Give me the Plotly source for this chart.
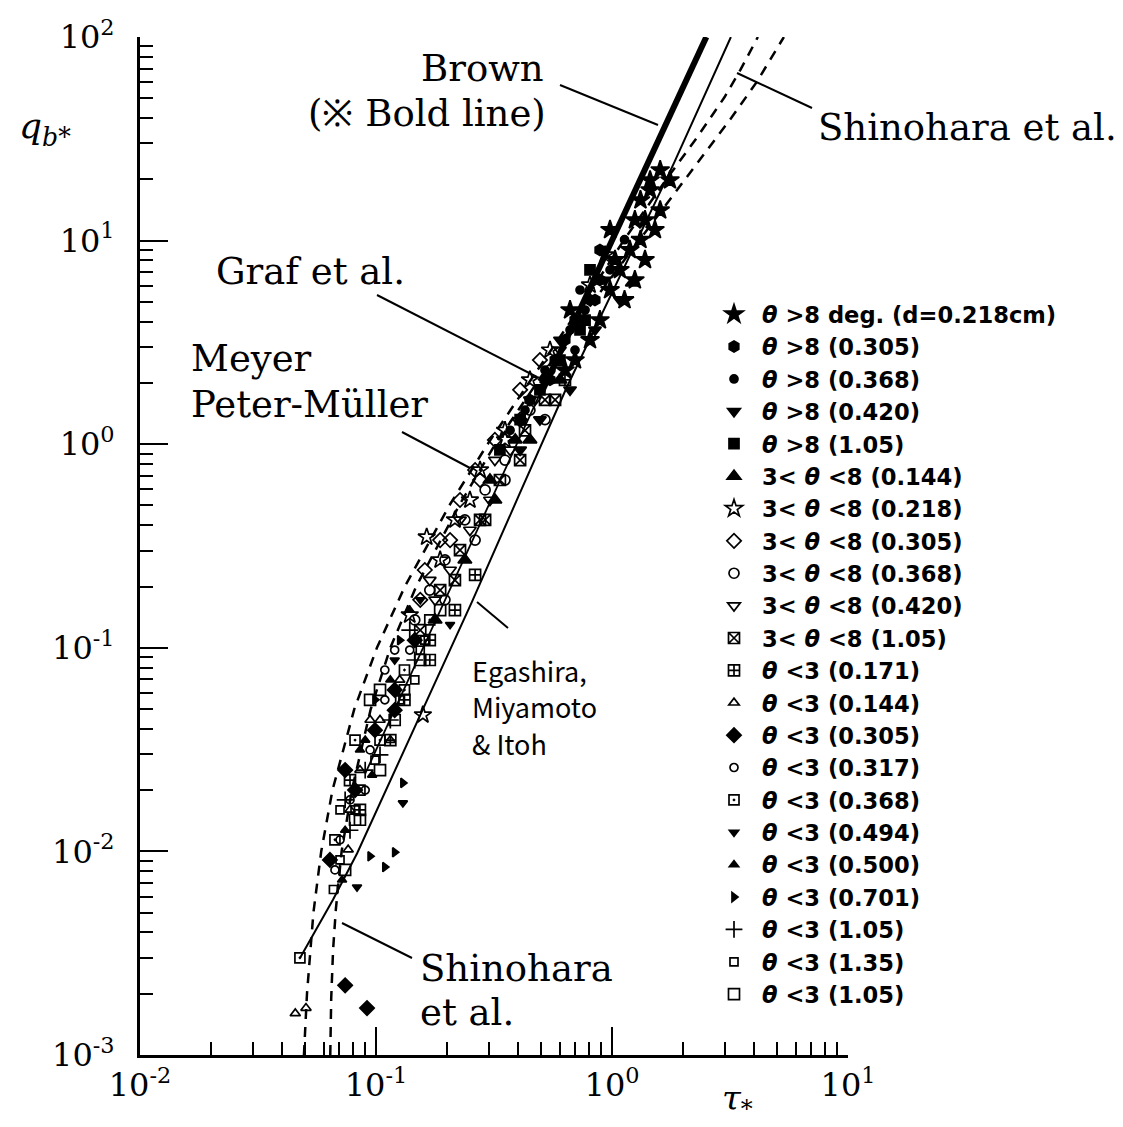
import plotly.graph_objects as go

# ---------------- reference curves ----------------
brown_tau = [0.50, 0.84, 1.00, 1.60, 2.51]
brown_q = [1.77, 6.5, 10.0, 32.0, 100.0]

graf_tau = [0.090, 0.12, 0.18, 0.26, 0.38, 0.53]
graf_q = [0.0241, 0.0496, 0.138, 0.349, 0.907, 2.10]

egashira_tau = [0.0477, 0.0658, 0.0832, 0.150, 0.255, 0.400, 0.644, 1.10, 1.83, 3.19]
egashira_q = [0.0030, 0.0058, 0.0098, 0.0436, 0.168, 0.549, 1.91, 6.98, 24.0, 100.0]

mpm_tau = [0.0495, 0.0510, 0.0543, 0.0586, 0.0654, 0.0809, 0.1009, 0.1325, 0.2045,
           0.297, 0.444, 0.76, 1.12, 1.70, 2.30, 3.00, 3.50, 4.15]
mpm_q = [0.001, 0.002, 0.005, 0.01, 0.02, 0.05, 0.1, 0.2, 0.5,
         1.0, 2.0, 5.0, 10.0, 20.0, 32.3, 50.7, 68.9, 100.0]

shino_tau = [0.0640, 0.0646, 0.0658, 0.0676, 0.0715, 0.079, 0.095, 0.115, 0.148,
             0.225, 0.32, 0.48, 0.83, 1.30, 2.05, 3.20, 4.10, 5.35]
shino_q = [0.001, 0.0019, 0.0033, 0.0052, 0.01, 0.02, 0.05, 0.1, 0.2,
           0.5, 1.0, 2.0, 5.0, 10.0, 20.0, 40.0, 60.0, 100.0]

labels = [
    "<i>θ</i> >8 deg. (d=0.218cm)", "<i>θ</i> >8 (0.305)", "<i>θ</i> >8 (0.368)",
    "<i>θ</i> >8 (0.420)", "<i>θ</i> >8 (1.05)",
    "3< <i>θ</i> <8 (0.144)", "3< <i>θ</i> <8 (0.218)", "3< <i>θ</i> <8 (0.305)",
    "3< <i>θ</i> <8 (0.368)", "3< <i>θ</i> <8 (0.420)", "3< <i>θ</i> <8 (1.05)",
    "<i>θ</i> <3 (0.171)", "<i>θ</i> <3 (0.144)", "<i>θ</i> <3 (0.305)",
    "<i>θ</i> <3 (0.317)", "<i>θ</i> <3 (0.368)", "<i>θ</i> <3 (0.494)",
    "<i>θ</i> <3 (0.500)", "<i>θ</i> <3 (0.701)", "<i>θ</i> <3 (1.05)",
    "<i>θ</i> <3 (1.35)", "<i>θ</i> <3 (1.05)",
]

s01_tau = [1.60, 1.76, 1.45, 1.60, 1.38, 1.52, 1.32, 1.19, 1.38, 1.08, 1.25, 0.981, 1.13, 0.889, 0.807, 0.697,
           0.632, 0.664, 1.03, 0.981, 1.25, 1.32, 1.45]
s01_q = [22.2, 19.8, 17.7, 14.1, 12.6, 11.3, 10.1, 9.0, 8.04, 7.18, 6.40, 5.72, 5.11, 4.07, 3.25, 2.59,
         2.31, 4.56, 8.04, 11.3, 12.6, 15.8, 19.8]
s02_tau = [0.889, 0.807, 0.697, 0.632, 0.574, 0.520, 0.449, 0.546, 0.847, 0.889]
s02_q = [6.40, 5.11, 4.07, 3.25, 2.59, 2.07, 1.65, 2.07, 5.11, 9.0]
s03_tau = [0.981, 0.769, 0.664, 0.520, 0.428, 0.370, 0.697, 0.732, 1.13]
s03_q = [7.18, 4.56, 3.64, 2.31, 1.47, 1.17, 2.90, 5.72, 10.1]
s04_tau = [1.08, 0.847, 0.664, 0.495, 0.408, 0.602, 0.935]
s04_q = [5.11, 3.64, 1.85, 1.32, 0.937, 3.25, 6.40]
s05_tau = [0.732, 0.602, 0.495, 0.408, 0.335, 0.769, 0.807]
s05_q = [3.64, 2.59, 1.85, 1.32, 0.937, 4.07, 7.18]
s06_tau = [1.22, 0.602, 0.389, 0.304, 0.238, 0.319, 0.449, 0.178]
s06_q = [6.2, 2.07, 1.05, 0.667, 0.270, 0.532, 1.05, 0.137]
s07_tau = [0.935, 0.807, 0.546, 0.449, 0.352, 0.276, 0.216, 0.164, 0.158, 0.187, 0.250, 0.352, 0.139]
s07_q = [8.5, 6.05, 2.90, 2.07, 1.17, 0.747, 0.425, 0.350, 0.0468, 0.270, 0.532, 1.05, 0.145]
s08_tau = [0.495, 0.408, 0.319, 0.263, 0.227, 0.187, 0.161, 0.154, 0.206, 0.276, 0.408]
s08_q = [2.59, 1.85, 1.05, 0.747, 0.532, 0.338, 0.241, 0.172, 0.338, 0.667, 1.32]
s09_tau = [0.546, 0.449, 0.352, 0.290, 0.238, 0.196, 0.169, 0.146, 0.196, 0.263, 0.352, 0.520]
s09_q = [2.31, 1.47, 0.836, 0.596, 0.425, 0.270, 0.192, 0.137, 0.172, 0.338, 0.667, 1.32]
s10_tau = [0.602, 0.472, 0.370, 0.304, 0.250, 0.206, 0.178, 0.169, 0.227, 0.319, 0.449]
s10_q = [2.90, 1.65, 0.937, 0.532, 0.379, 0.241, 0.172, 0.215, 0.425, 0.836, 1.65]
s11_tau = [0.520, 0.428, 0.335, 0.276, 0.227, 0.187, 0.154, 0.216, 0.290, 0.408, 0.574]
s11_q = [1.65, 1.17, 0.667, 0.425, 0.302, 0.192, 0.122, 0.215, 0.425, 0.836, 1.65]
s12_tau = [0.263, 0.632, 0.216, 0.169, 0.132, 0.115, 0.0776, 0.169, 0.0855]
s12_q = [0.228, 2.07, 0.153, 0.0871, 0.0555, 0.0352, 0.0224, 0.109, 0.0160]
s13_tau = [0.0505, 0.0455, 0.126, 0.104, 0.0855, 0.0776, 0.0944, 0.0762, 0.115]
s13_q = [0.0017, 0.0016, 0.0695, 0.0442, 0.0251, 0.0160, 0.0442, 0.0102, 0.0352]
s14_tau = [0.074, 0.0916, 0.146, 0.120, 0.099, 0.0815, 0.120, 0.0638, 0.074]
s14_q = [0.0022, 0.0017, 0.109, 0.0621, 0.0394, 0.0200, 0.0494, 0.00908, 0.0251]
s15_tau = [0.139, 0.109, 0.0944, 0.0776, 0.0704, 0.0670, 0.120, 0.090, 0.109]
s15_q = [0.0975, 0.0555, 0.0315, 0.0179, 0.0114, 0.00811, 0.0975, 0.0200, 0.0778]
s16_tau = [0.0476, 0.169, 0.132, 0.104, 0.0855, 0.132, 0.067, 0.0815]
s16_q = [0.0030, 0.137, 0.0778, 0.0352, 0.0200, 0.0621, 0.0114, 0.0352]
s17_tau = [0.130, 0.0831, 0.154, 0.120, 0.206]
s17_q = [0.0173, 0.00668, 0.172, 0.0871, 0.130]
s18_tau = [0.139, 0.115, 0.090, 0.074, 0.0855, 0.0718, 0.0963]
s18_q = [0.153, 0.0695, 0.0352, 0.0127, 0.0315, 0.00724, 0.0237]
s19_tau = [0.120, 0.109, 0.0944, 0.130, 0.126, 0.099]
s19_q = [0.0099, 0.00838, 0.00946, 0.0217, 0.109, 0.0555]
s20_tau = [0.146, 0.115, 0.090, 0.0776, 0.104, 0.139, 0.074]
s20_q = [0.0871, 0.0442, 0.0251, 0.0127, 0.0298, 0.122, 0.0179]
s21_tau = [0.161, 0.126, 0.099, 0.0815, 0.0704, 0.0660, 0.154, 0.0704, 0.146]
s21_q = [0.109, 0.0555, 0.0281, 0.0160, 0.00908, 0.0065, 0.0975, 0.0160, 0.0695]
s22_tau = [0.187, 0.154, 0.120, 0.104, 0.0855, 0.074, 0.104, 0.0815, 0.0944]
s22_q = [0.153, 0.0871, 0.0442, 0.0251, 0.0143, 0.00811, 0.0621, 0.0143, 0.0555]

series_tau = [s01_tau, s02_tau, s03_tau, s04_tau, s05_tau, s06_tau, s07_tau, s08_tau, s09_tau, s10_tau, s11_tau,
              s12_tau, s13_tau, s14_tau, s15_tau, s16_tau, s17_tau, s18_tau, s19_tau, s20_tau, s21_tau, s22_tau]
series_q = [s01_q, s02_q, s03_q, s04_q, s05_q, s06_q, s07_q, s08_q, s09_q, s10_q, s11_q,
            s12_q, s13_q, s14_q, s15_q, s16_q, s17_q, s18_q, s19_q, s20_q, s21_q, s22_q]

symbols = ["star", "hexagon", "circle", "triangle-down", "square", "triangle-up", "star-open",
           "diamond-open", "circle-open", "triangle-down-open", "square-x-open",
           "square-cross-open", "triangle-up-open", "diamond", "circle-open", "square-open-dot",
           "triangle-down", "triangle-up", "triangle-right", "cross-thin-open", "square-open", "square-open"]
sizes = [14, 11, 8, 11, 10, 12, 13, 11, 10, 11, 11, 11, 9, 11, 8, 10, 8, 8, 8, 12, 8, 11]

x_ticks = [0.01, 0.1, 1, 10]
x_ticktext = ["10<sup>-2</sup>", "10<sup>-1</sup>", "10<sup>0</sup>", "10<sup>1</sup>"]
y_ticks = [0.001, 0.01, 0.1, 1, 10, 100]
y_ticktext = ["10<sup>-3</sup>", "10<sup>-2</sup>", "10<sup>-1</sup>", "10<sup>0</sup>",
              "10<sup>1</sup>", "10<sup>2</sup>"]
minor_x = [m * d for d in [0.01, 0.1, 1] for m in range(2, 10)]
minor_y = [m * d for d in [0.001, 0.01, 0.1, 1, 10] for m in range(2, 10)]

# ---------------- figure ----------------
# the page body has an 8 px margin, so the figure is shrunk by 8 px and
# the plot area is placed at screen x 140..848, y 37..1055
BODY = 8
W, H = 1123 - BODY, 1127 - BODY
X0, X1, Y0, Y1 = 140, 848, 37, 1055
L, T = X0 - BODY, Y0 - BODY
R, B = W - (X1 - BODY), H - (Y1 - BODY)
PW, PH = X1 - X0, Y1 - Y0


def px(x):
    return (x - X0) / PW


def py(y):
    return (Y1 - y) / PH


fig = go.Figure()

line_specs = [
    (brown_tau, brown_q, dict(color="black", width=6)),
    (graf_tau, graf_q, dict(color="black", width=1.8)),
    (egashira_tau, egashira_q, dict(color="black", width=2)),
    (mpm_tau, mpm_q, dict(color="black", width=2.5, dash="10px,8px")),
    (shino_tau, shino_q, dict(color="black", width=2.5, dash="10px,8px")),
]
for xs, ys, ln in line_specs:
    fig.add_trace(go.Scatter(x=xs, y=ys, mode="lines", line=ln, showlegend=False,
                             hoverinfo="skip"))

for i in range(len(labels)):
    fig.add_trace(go.Scatter(
        x=series_tau[i], y=series_q[i], mode="markers", name=labels[i],
        legendgroup=f"g{i}",
        marker=dict(symbol=symbols[i], size=sizes[i], color="black",
                    line=dict(color="black", width=1.7)),
    ))

serif = "DejaVu Serif"
axis_common = dict(type="log", showline=True, linecolor="black", linewidth=3,
                   showgrid=False, zeroline=False, ticks="inside", tickcolor="black",
                   tickwidth=2, ticklen=28, mirror=False,
                   tickfont=dict(family=serif, size=32, color="black"))
fig.update_xaxes(range=[-2, 1], tickmode="array", tickvals=x_ticks, ticktext=x_ticktext,
                 minor=dict(tickmode="array", tickvals=minor_x, ticks="inside", ticklen=13,
                            tickwidth=2, tickcolor="black", showgrid=False),
                 **axis_common)
fig.update_yaxes(range=[-3, 2], tickmode="array", tickvals=y_ticks, ticktext=y_ticktext,
                 minor=dict(tickmode="array", tickvals=minor_y, ticks="inside", ticklen=13,
                            tickwidth=2, tickcolor="black", showgrid=False),
                 ticklabelstandoff=16, **axis_common)

ann_font = dict(family=serif, size=37, color="black")
sans_font = dict(family="Noto Sans CJK JP", size=27, color="black")
annotations = [
    dict(text="Brown", x=px(546), y=py(69), xanchor="right", font=ann_font),
    dict(text="(※ Bold line)", x=px(548), y=py(114), xanchor="right", font=ann_font),
    dict(text="Shinohara et al.", x=px(816), y=py(127), xanchor="left", font=ann_font),
    dict(text="Graf et al.", x=px(214), y=py(271), xanchor="left", font=ann_font),
    dict(text="Meyer", x=px(189), y=py(358), xanchor="left", font=ann_font),
    dict(text="Peter-Müller", x=px(189), y=py(404), xanchor="left", font=ann_font),
    dict(text="Egashira,", x=px(470), y=py(670), xanchor="left", font=sans_font),
    dict(text="Miyamoto", x=px(470), y=py(706), xanchor="left", font=sans_font),
    dict(text="&amp; Itoh", x=px(470), y=py(743), xanchor="left", font=sans_font),
    dict(text="Shinohara", x=px(418), y=py(968), xanchor="left", font=ann_font),
    dict(text="et al.", x=px(418), y=py(1012), xanchor="left", font=ann_font),
    dict(text="<i>q</i><sub><i>b</i>*</sub>", x=px(45), y=py(128), xanchor="center",
         font=dict(family=serif, size=36, color="black")),
    dict(text="<i>τ</i><sub>*</sub>", x=px(737), y=py(1100), xanchor="center",
         font=dict(family=serif, size=34, color="black")),
]
for a in annotations:
    a.update(xref="paper", yref="paper", showarrow=False, yanchor="middle")
fig.update_layout(annotations=annotations)

pointers = [
    ((560, 85), (658, 125)),
    ((737, 73), (812, 108)),
    ((377, 295), (537, 377)),
    ((402, 432), (470, 468)),
    ((477, 602), (508, 628)),
    ((342, 923), (412, 958)),
]
for (x0, y0), (x1, y1) in pointers:
    fig.add_shape(type="line", xref="paper", yref="paper", x0=px(x0), y0=py(y0),
                  x1=px(x1), y1=py(y1), line=dict(color="black", width=2))

fig.update_layout(
    width=W, height=H,
    margin=dict(l=L, r=R, t=T, b=B, autoexpand=False),
    paper_bgcolor="white", plot_bgcolor="white",
    legend=dict(x=px(706), y=py(293), xanchor="left", yanchor="top",
                bgcolor="rgba(0,0,0,0)", tracegroupgap=0, itemwidth=46,
                font=dict(family="DejaVu Sans", size=22.6, color="black", weight="bold")),
    font=dict(family=serif, color="black"),
)

fig.write_html("out.html")
